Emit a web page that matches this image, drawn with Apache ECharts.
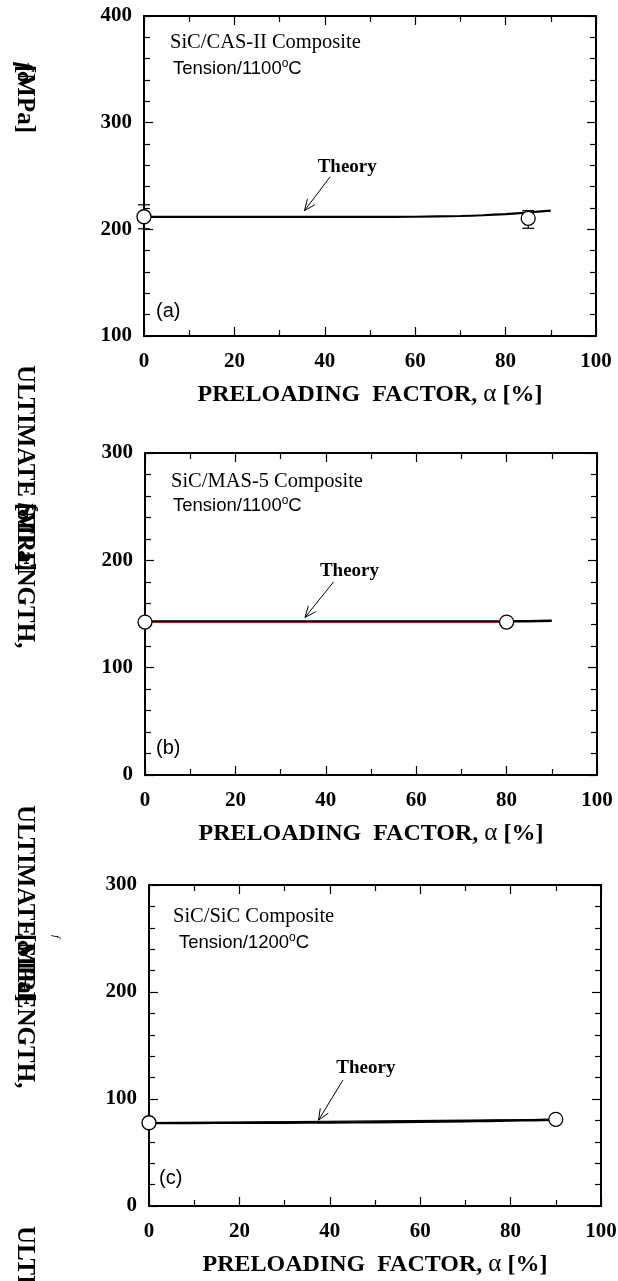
<!DOCTYPE html>
<html>
<head>
<meta charset="utf-8">
<script src="https://cdn.jsdelivr.net/npm/echarts@6/dist/echarts.min.js"></script>
<style>
  html, body { margin: 0; padding: 0; background: #fff; }
  #chart { width: 618px; height: 1281px; }
</style>
</head>
<body>
<div id="chart"></div>
<script>
// Preloading factor (%) at which the theory curves are sampled
const alphaTheory = [0, 10, 20, 30, 40, 50, 60, 70, 75, 80, 85, 90];

// (a) SiC/CAS-II composite, tension at 1100 °C
const casTheory   = [211.6, 211.6, 211.6, 211.6, 211.6, 211.6, 211.8, 212.5, 213.2, 214.3, 215.8, 217.6];
const casAlpha    = [0, 85];
const casStrength = [211.8, 210.3];
const casLow      = [200.5, 201.0];
const casHigh     = [223.0, 217.5];

// (b) SiC/MAS-5 composite, tension at 1100 °C
const masTheory   = [143.0, 143.0, 143.0, 143.0, 143.0, 143.0, 143.0, 143.0, 143.0, 143.1, 143.3, 143.7];
const masAlpha    = [0, 80];
const masStrength = [142.5, 142.5];
const masFitAlpha = [0, 80];
const masFit      = [142.2, 142.2];

// (c) SiC/SiC composite, tension at 1200 °C
const sicTheory   = [77.5, 77.6, 77.7, 77.8, 78.0, 78.3, 78.7, 79.2, 79.5, 79.8, 80.2, 80.6];
const sicAlpha    = [0, 90];
const sicStrength = [77.8, 81.0];

// Tick labels
const alphaTicks     = [0, 20, 40, 60, 80, 100];
const strengthTicksA = [100, 200, 300, 400];
const strengthTicksB = [0, 100, 200, 300];
const strengthTicksC = [0, 100, 200, 300];

// "Theory" pointer arrows: [tail alpha, tail strength, head alpha, head strength]
const arrowA = [41.2, 249.3, 35.5, 217.5];
const arrowB = [41.7, 179.8, 35.4, 146.8];
const arrowC = [42.9, 117.6, 37.5, 80.2];

const SERIF = '"Liberation Serif", "Times New Roman", serif';
const SANS = '"Liberation Sans", Arial, sans-serif';

const pairs = (xs, ys) => xs.map((x, i) => [x, ys[i]]);

const grids = [
  { left: 144, top: 16,  width: 452, height: 320 },
  { left: 145, top: 453, width: 452, height: 322 },
  { left: 149, top: 885, width: 452, height: 321 }
];

const lineStyleAxis = { color: '#000', width: 2 };
const tickStyle = { color: '#000', width: 1.2 };

function xAxes(gi) {
  const base = {
    type: 'value', gridIndex: gi,
    min: alphaTicks[0], max: alphaTicks[alphaTicks.length - 1],
    interval: alphaTicks[1] - alphaTicks[0],
    axisLine: { show: true, onZero: false, lineStyle: lineStyleAxis },
    axisTick: { show: true, inside: true, length: 9, lineStyle: tickStyle },
    minorTick: { show: true, splitNumber: 2, length: 6, lineStyle: tickStyle },
    splitLine: { show: false },
    minorSplitLine: { show: false }
  };
  return [
    Object.assign({}, base, {
      position: 'bottom',
      axisLabel: {
        show: true, margin: 15, color: '#000', showMinLabel: true, showMaxLabel: true,
        fontFamily: SERIF, fontWeight: 'bold', fontSize: 21
      },
      name: '{b|PRELOADING  FACTOR, }{a|α}{b| [%]}',
      nameLocation: 'middle',
      nameGap: 46,
      nameTextStyle: {
        rich: {
          b: { fontFamily: SERIF, fontWeight: 'bold', fontSize: 24, color: '#000' },
          a: { fontFamily: SERIF, fontWeight: 'normal', fontSize: 25, color: '#000' }
        }
      }
    }),
    Object.assign({}, base, { position: 'top', axisLabel: { show: false } })
  ];
}

function yAxes(gi, ticks) {
  const base = {
    type: 'value', gridIndex: gi,
    min: ticks[0], max: ticks[ticks.length - 1], interval: ticks[1] - ticks[0],
    axisLine: { show: true, onZero: false, lineStyle: lineStyleAxis },
    axisTick: { show: true, inside: true, length: 9, lineStyle: tickStyle },
    minorTick: { show: true, splitNumber: 5, length: 6, lineStyle: tickStyle },
    splitLine: { show: false },
    minorSplitLine: { show: false }
  };
  return [
    Object.assign({}, base, {
      position: 'left',
      axisLabel: {
        show: true, margin: 12, color: '#000', showMinLabel: true, showMaxLabel: true,
        fontFamily: SERIF, fontWeight: 'bold', fontSize: 21
      }
    }),
    Object.assign({}, base, { position: 'right', axisLabel: { show: false } })
  ];
}

function theoryLine(gi, values, width) {
  return {
    type: 'line', xAxisIndex: gi * 2, yAxisIndex: gi * 2,
    data: pairs(alphaTheory, values), smooth: 0.3, showSymbol: false, symbol: 'none',
    lineStyle: { color: '#000', width: width }, z: 2, silent: true
  };
}

function points(gi, xs, ys) {
  return {
    type: 'scatter', xAxisIndex: gi * 2, yAxisIndex: gi * 2,
    data: pairs(xs, ys), symbol: 'circle', symbolSize: 14,
    itemStyle: { color: '#fff', borderColor: '#000', borderWidth: 1.3, opacity: 1 },
    z: 5, silent: true
  };
}

// Arrow with open V head and the "Theory" caption near its tail
function arrowSeries(gi, arrow, dx, dy) {
  return {
    type: 'custom', xAxisIndex: gi * 2, yAxisIndex: gi * 2,
    data: [arrow], z: 4, silent: true, clip: false,
    renderItem: function (params, api) {
      const t = api.coord([api.value(0), api.value(1)]);
      const h = api.coord([api.value(2), api.value(3)]);
      const ang = Math.atan2(t[1] - h[1], t[0] - h[0]);
      const L = 12, spread = 0.4;
      const a1 = [h[0] + L * Math.cos(ang + spread), h[1] + L * Math.sin(ang + spread)];
      const a2 = [h[0] + L * Math.cos(ang - spread), h[1] + L * Math.sin(ang - spread)];
      return {
        type: 'group',
        children: [
          { type: 'line', shape: { x1: t[0], y1: t[1], x2: h[0], y2: h[1] },
            style: { stroke: '#000', lineWidth: 1, fill: 'none' } },
          { type: 'polyline', shape: { points: [a1, h, a2] },
            style: { stroke: '#000', lineWidth: 1, fill: 'none' } },
          { type: 'text', x: t[0] + dx, y: t[1] + dy,
            style: { text: 'Theory', font: 'bold 19px ' + SERIF, fill: '#000',
                     align: 'center', verticalAlign: 'middle' } }
        ]
      };
    }
  };
}

// Vertical error bars with caps
function errorBars(gi, xs, lows, highs) {
  return {
    type: 'custom', xAxisIndex: gi * 2, yAxisIndex: gi * 2,
    data: xs.map((x, i) => [x, lows[i], highs[i]]), z: 3, silent: true, clip: false,
    renderItem: function (params, api) {
      const lo = api.coord([api.value(0), api.value(1)]);
      const hi = api.coord([api.value(0), api.value(2)]);
      const c = 6;
      const st = { stroke: '#000', lineWidth: 1.2, fill: 'none' };
      return {
        type: 'group',
        children: [
          { type: 'line', shape: { x1: lo[0], y1: lo[1], x2: hi[0], y2: hi[1] }, style: st },
          { type: 'line', shape: { x1: lo[0] - c, y1: lo[1], x2: lo[0] + c, y2: lo[1] }, style: st },
          { type: 'line', shape: { x1: hi[0] - c, y1: hi[1], x2: hi[0] + c, y2: hi[1] }, style: st }
        ]
      };
    }
  };
}

// Panel annotation texts
function serifNote(x, y, text) {
  return { type: 'text', x: x, y: y, z: 10,
    style: { text: text, font: '20.5px ' + SERIF, fill: '#000', align: 'left', verticalAlign: 'middle' } };
}
function tempNote(x, y, head) {
  return { type: 'text', x: x, y: y, z: 10,
    style: {
      text: '{m|' + head + '}{s|o}{m|C}', fill: '#000',
      align: 'left', verticalAlign: 'middle',
      rich: {
        m: { fontFamily: SANS, fontSize: 18.5, fill: '#000', verticalAlign: 'bottom' },
        s: { fontFamily: SANS, fontSize: 12, fill: '#000', verticalAlign: 'bottom', padding: [0, 0, 9, 0] }
      }
    } };
}
function panelTag(x, y, text) {
  return { type: 'text', x: x, y: y, z: 10,
    style: { text: text, font: '20px ' + SANS, fill: '#000', align: 'left', verticalAlign: 'middle' } };
}
// Rotated (top-to-bottom) axis title pieces
function vText(x, y, text, font) {
  return { type: 'text', x: x, y: y, rotation: -Math.PI / 2, z: 10,
    style: { text: text, font: font, fill: '#000', align: 'left', verticalAlign: 'bottom' } };
}

const TITLE_FONT = 'bold 25px ' + SERIF;
const graphics = [
  serifNote(170, 43, 'SiC/CAS-II Composite'),
  tempNote(173, 68, 'Tension/1100'),
  panelTag(156, 311, '(a)'),
  serifNote(171, 482, 'SiC/MAS-5 Composite'),
  tempNote(173, 505, 'Tension/1100'),
  panelTag(156, 748, '(b)'),
  serifNote(173, 917, 'SiC/SiC Composite'),
  tempNote(179, 942, 'Tension/1200'),
  panelTag(159, 1178, '(c)'),

  vText(11.5, 365, 'ULTIMATE STRENGTH,', TITLE_FONT),
  vText(11.5, 805, 'ULTIMATE STRENGTH,', TITLE_FONT),
  vText(11.5, 1226, 'ULTIMATE STRENGTH,', TITLE_FONT),

  vText(11.5, 65, '[MPa]', TITLE_FONT),
  vText(13, 71, 'σ', 'bold 22px ' + SERIF),
  vText(12, 62, 'f', 'bold italic 24px ' + SERIF),

  vText(11.5, 503, '[MPa]', TITLE_FONT),
  vText(13, 509, 'σ', 'bold 22px ' + SERIF),
  vText(18, 503, 'f', 'bold italic 20px ' + SERIF),

  vText(11.5, 934, '[MPa]', TITLE_FONT),
  vText(13, 940, 'σ', 'bold 22px ' + SERIF),
  vText(50, 935, 'f', 'italic 11px ' + SERIF)
];

const chart = echarts.init(document.getElementById('chart'), null, { renderer: 'canvas', width: 618, height: 1281 });

chart.setOption({
  animation: false,
  backgroundColor: '#fff',
  grid: grids.map(g => Object.assign({ containLabel: false, outerBoundsMode: 'none' }, g)),
  xAxis: [].concat(xAxes(0), xAxes(1), xAxes(2)),
  yAxis: [].concat(yAxes(0, strengthTicksA), yAxes(1, strengthTicksB), yAxes(2, strengthTicksC)),
  series: [
    // (a)
    theoryLine(0, casTheory, 2.2),
    errorBars(0, casAlpha, casLow, casHigh),
    points(0, casAlpha, casStrength),
    arrowSeries(0, arrowA, 17, -10),
    // (b)
    theoryLine(1, masTheory, 2.5),
    {
      type: 'line', xAxisIndex: 2, yAxisIndex: 2,
      data: pairs(masFitAlpha, masFit), showSymbol: false, symbol: 'none',
      lineStyle: { color: '#e8141c', width: 0.8 }, z: 3, silent: true
    },
    points(1, masAlpha, masStrength),
    arrowSeries(1, arrowB, 16, -11),
    // (c)
    theoryLine(2, sicTheory, 2.4),
    {
      type: 'line', xAxisIndex: 4, yAxisIndex: 4,
      data: pairs(sicAlpha, sicStrength), showSymbol: false, symbol: 'none',
      lineStyle: { color: '#000', width: 1.2 }, z: 2, silent: true
    },
    points(2, sicAlpha, sicStrength),
    arrowSeries(2, arrowC, 23, -12)
  ],
  graphic: graphics
});
</script>
</body>
</html>
